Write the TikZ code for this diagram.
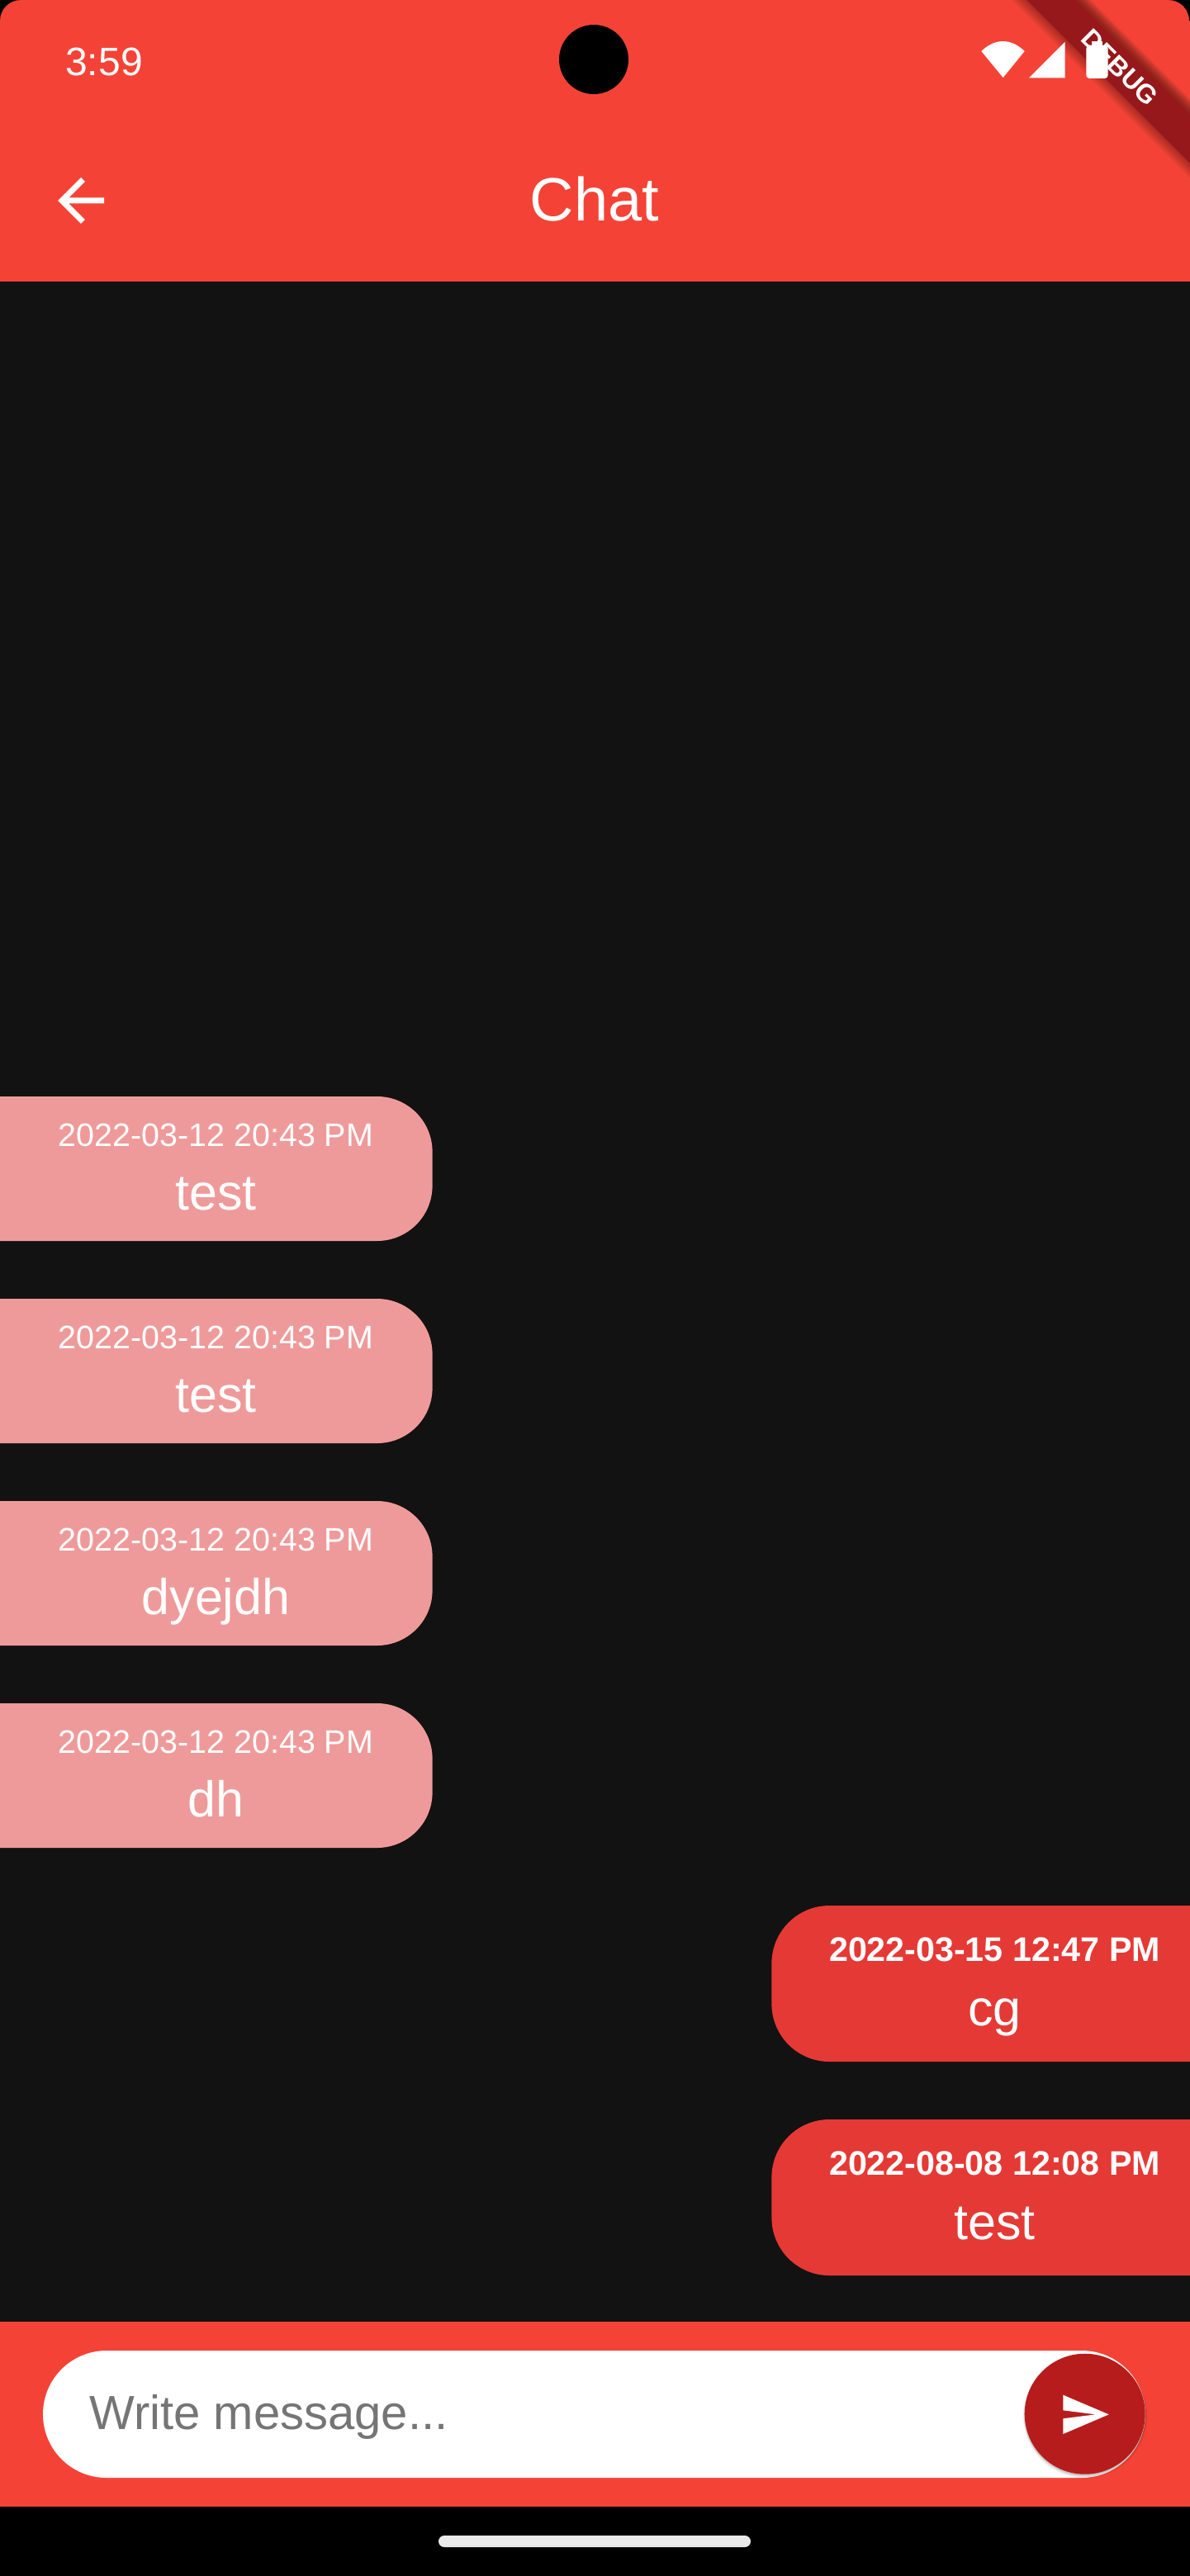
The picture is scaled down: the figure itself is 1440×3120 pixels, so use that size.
\documentclass[tikz,border=0pt]{standalone}
\usepackage{fontspec}
\setmainfont{Liberation Sans}
\definecolor{appred}{HTML}{F44336}
\definecolor{darkbg}{HTML}{121212}
\definecolor{otherpink}{HTML}{EF9A9A}
\definecolor{minered}{HTML}{E53935}
\definecolor{sendred}{HTML}{B71C1C}
\definecolor{ribbonred}{HTML}{96181A}
\definecolor{hintgray}{HTML}{757575}
\definecolor{homebar}{HTML}{EAEAEA}
\tikzset{
  label/.style={inner sep=0pt, anchor=base, text=white},
  stamp/.style={label, font=\fontsize{19.7}{24}\selectfont},
  minestamp/.style={label, font=\fontsize{20.6}{24}\selectfont\bfseries},
  msg/.style={label, font=\fontsize{30.5}{36}\selectfont},
  otherbubble/.style={fill=otherpink, rounded corners=33.5pt},
  minebubble/.style={fill=minered, rounded corners=35pt},
}

\begin{document}
\begin{tikzpicture}[x=0.5pt, y=-0.5pt]
  \useasboundingbox (0,0) rectangle (1440,3120);
  \clip (-6,-6) rectangle (1446,3126);

  % Draw screen and bars
  \fill[darkbg] (-6,-6) rectangle (1446,3126);
  \fill[appred] (-6,-6) rectangle (1446,341);
  \fill[appred] (-6,2812) rectangle (1446,3036);
  \fill[black] (-6,3036) rectangle (1446,3126);

  % Draw debug ribbon with its soft edge
  \foreach \w in {18,16,...,2} {
    \fill[black, opacity=0.035] (1223-\w,-20) -- (1223,-20) -- (1543,300) -- (1543-\w,300) -- cycle;
    \fill[black, opacity=0.06] (1283,-20) -- (1283+\w,-20) -- (1603+\w,300) -- (1603,300) -- cycle;
  }
  \fill[ribbonred] (1223,-20) -- (1283,-20) -- (1603,300) -- (1543,300) -- cycle;
  \node[label, font=\fontsize{16}{18}\selectfont\bfseries, rotate=-45] (ribbonText) at (1348.4,89.6) {DEBUG};

  % Draw status bar
  \node[label, font=\fontsize{24}{28}\selectfont] (clock) at (126,92) {3:59};
  \fill[black] (719,72) circle (42);
  \fill[white] (1188.3,62) .. controls (1205,46) and (1224,46) .. (1240.7,62) -- (1214.7,94) -- cycle;
  \fill[white] (1289.7,50.7) -- (1289.7,94.3) -- (1246,94.3) -- cycle;
  \fill[white, rounded corners=2pt] (1315.3,55) rectangle (1341.7,95);
  \fill[white] (1322,50) rectangle (1335,56);

  % Draw app bar
  \fill[white] (126,239.5) -- (83.4,239.5) -- (103,219.9) -- (98,215) -- (70,243) -- (98,271)
    -- (102.9,266) -- (83.4,246.5) -- (126,246.5) -- cycle;
  \node[label, font=\fontsize{37}{44}\selectfont] (title) at (720,268) {Chat};

  % Data
  \foreach \i/\y/\m in {1/1328/test, 2/1573/test, 3/1818/dyejdh, 4/2063/dh} {
    % Draw received bubbles
    \fill[otherbubble] (-80,\y) rectangle (523.6,\y+175);
    \node[stamp] (stampOther\i) at (261.5,\y+60) {2022-03-12 20:43 PM};
    \node[msg] (msgOther\i) at (261.5,\y+137) {\m};
  }
  \foreach \i/\y/\d/\m in {1/2308/2022-03-15 12:47 PM/cg, 2/2567/2022-08-08 12:08 PM/test} {
    % Draw sent bubbles
    \fill[minebubble] (934.4,\y) rectangle (1520,\y+189);
    \node[minestamp] (stampMine\i) at (1204.5,\y+67) {\d};
    \node[msg] (msgMine\i) at (1204.5,\y+145) {\m};
  }

  % Draw input field
  \fill[white, rounded corners=38.5pt] (52,2847) rectangle (1387,3001);
  \node[label, anchor=base west, text=hintgray, font=\fontsize{29}{34}\selectfont] (hint) at (108,2942) {Write message...};

  % Draw send button
  \foreach \s/\o in {4/0.05, 2.5/0.07, 1.2/0.10} {
    \fill[black, opacity=\o] (1314,2924.5+\s/2) circle (73+\s/2);
  }
  \fill[sendred] (1313.7,2923.7) circle (73);
  \fill[white] (1287.3,2900.7) -- (1342.7,2924.3) -- (1287.3,2948) -- (1287.3,2929.3)
    -- (1326.7,2924.3) -- (1287.3,2919.3) -- cycle;

  % Draw home bar
  \fill[homebar, rounded corners=3.5pt] (531,3071) rectangle (909,3085);

  % Draw screen corners
  \fill[black] (-6,-6) -- (25,-6) -- (25,0) .. controls (11,0) and (0,11) .. (0,25) -- (-6,25) -- cycle;
  \fill[black] (1446,-6) -- (1415,-6) -- (1415,0) .. controls (1429,0) and (1440,11) .. (1440,25) -- (1446,25) -- cycle;
\end{tikzpicture}
\end{document}
